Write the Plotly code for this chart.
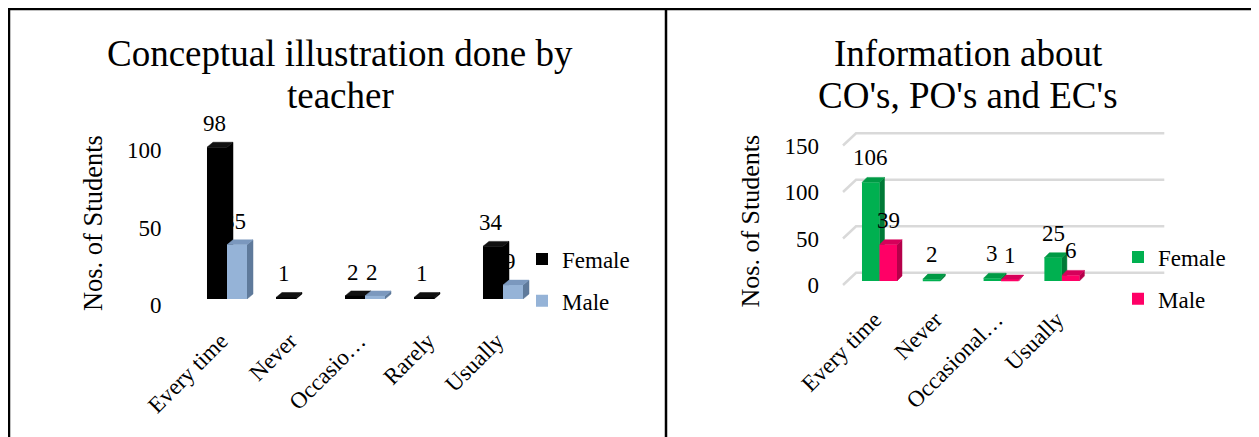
import plotly.graph_objects as go

# page is shown with an 8px body margin -> figure fills the rest
PAGE_W, PAGE_H, OFF = 1259, 437, 8
W, H = PAGE_W - OFF, PAGE_H - OFF

# ---------------- data ----------------
series_names = ["Female", "Male"]
y_title = "Nos. of Students"

left_title = ["Conceptual illustration done by", "teacher"]
left_categories = ["Every time", "Never", "Occasio…", "Rarely", "Usually"]
left_female = [98, 1, 2, 1, 34]
left_male = [35, None, 2, None, 9]
left_yticks = [0, 50, 100]

right_title = ["Information about", "CO's, PO's and EC's"]
right_categories = ["Every time", "Never", "Occasional…", "Usually"]
right_female = [106, 2, 3, 25]
right_male = [39, None, 1, 6]
right_yticks = [0, 50, 100, 150]

# ---------------- styles ----------------
FONT = "Liberation Serif"
left_colors = [("#000000", "#000000", "#111111"),
               ("#95B3D7", "#5F7A9B", "#7B98BE")]
right_colors = [("#00B050", "#007A37", "#009A45"),
                ("#FF0066", "#B5004A", "#D6005A")]


def px_x(p):  # screen px -> paper
    return (p - OFF) / W


def px_y(p):
    return 1 - (p - OFF) / H


fig = go.Figure()


def add_chart(cats, female, male, colors, base, over, w, dx, dy,
              legend, group, label_size, yshift, label_dx):
    bx, by = base
    ox, oy = over
    idx = list(range(len(cats)))
    offsets = [-w, 0]
    # 3D side/top faces (lower layer)
    for k, vals in enumerate([female, male]):
        front, side, top = colors[k]
        xs_s, ys_s, xs_t, ys_t = [], [], [], []
        for i, v in zip(idx, vals):
            if v is None:
                continue
            xl = i + offsets[k]
            xr = xl + w
            xs_s += [xr, xr + dx, xr + dx, xr, xr, None]
            ys_s += [0, dy, v + dy, v, 0, None]
            xs_t += [xl, xl + dx, xr + dx, xr, xl, None]
            ys_t += [v, v + dy, v + dy, v, v, None]
        for xs, ys, col in [(xs_s, ys_s, side), (xs_t, ys_t, top)]:
            fig.add_trace(go.Scatter(
                x=xs, y=ys, fill="toself", fillcolor=col, mode="lines",
                line=dict(width=0.5, color=col), hoverinfo="skip",
                showlegend=False, xaxis=bx, yaxis=by))
    # front faces as bars (overlay layer, above the faces)
    for k, (name, vals) in enumerate(zip(series_names, [female, male])):
        fig.add_trace(go.Bar(
            x=idx, y=vals, width=w, offset=offsets[k], name=name,
            marker=dict(color=colors[k][0], line=dict(width=0)),
            xaxis=ox, yaxis=oy, legend=legend, legendgroup=group + name,
            hoverinfo="x+y"))
        for i, v in zip(idx, vals):
            if v is None:
                continue
            fig.add_annotation(
                x=i + offsets[k] + w / 2, y=v, xref=bx, yref=by,
                text=str(v), showarrow=False, yanchor="bottom",
                yshift=yshift, xshift=label_dx[k],
                font=dict(family=FONT, size=label_size, color="black"))


# ---------------- geometry (screen px) ----------------
# left chart
L_c0, L_step, L_base, L_ppu = 227, 69, 299, 1.549
l_xr = [-0.5, 4.5]
l_yr = [0, 120]
l_xdom = [px_x(L_c0 + l_xr[0] * L_step), px_x(L_c0 + l_xr[1] * L_step)]
l_ydom = [px_y(L_base - l_yr[0] * L_ppu), px_y(L_base - l_yr[1] * L_ppu)]

# right chart
R_c0, R_step, R_base, R_ppu = 879.5, 60.8, 281, 0.93
r_xr = [-0.65, 4.75]
r_yr = [-6, 162]
r_xdom = [px_x(R_c0 + r_xr[0] * R_step), px_x(R_c0 + r_xr[1] * R_step)]
r_ydom = [px_y(R_base - r_yr[0] * R_ppu), px_y(R_base - r_yr[1] * R_ppu)]

# left chart traces (subplots xy + overlay x2y2)
add_chart(left_categories, left_female, left_male, left_colors,
          ("x", "y"), ("x2", "y2"), 0.29, 0.087, 3.2, "legend", "L", 23, 9,
          (-2, -3))

# right chart back-wall gridlines (lowest layer of right chart)
g_x0, g_x1, g_dx, g_dy, g_front = -0.6, 4.47, 0.214, 8.9, -4.3
gx, gy = [], []
for t in right_yticks:
    gx += [g_x0, g_x0 + g_dx, g_x1 + g_dx, None]
    gy += [t + g_front, t + g_dy, t + g_dy, None]
fig.add_trace(go.Scatter(x=gx, y=gy, mode="lines",
                         line=dict(color="#D9D9D9", width=2.5),
                         hoverinfo="skip", showlegend=False,
                         xaxis="x3", yaxis="y3"))

add_chart(right_categories, right_female, right_male, right_colors,
          ("x3", "y3"), ("x4", "y4"), 0.288, 0.082, 5.4, "legend2", "R",
          23, 10, (0, 0))

# ---------------- axes ----------------
common = dict(showgrid=False, zeroline=False, showline=False, ticks="",
              automargin=False)
tick_font = dict(family=FONT, size=23, color="black")

fig.update_layout(
    xaxis=dict(domain=l_xdom, range=l_xr, anchor="y", tickmode="array",
               tickvals=list(range(len(left_categories))),
               ticktext=left_categories, tickangle=-45,
               ticklabelstandoff=23, ticklabelshift=-6,
               tickfont=tick_font, **common),
    yaxis=dict(domain=l_ydom, range=l_yr, anchor="x", tickmode="array",
               tickvals=left_yticks, ticklabelstandoff=30,
               ticklabelshift=6, tickfont=tick_font, **common),
    xaxis2=dict(domain=l_xdom, range=l_xr, anchor="y2", overlaying="x",
                visible=False, **common),
    yaxis2=dict(domain=l_ydom, range=l_yr, anchor="x2", overlaying="y",
                visible=False, **common),
    xaxis3=dict(domain=r_xdom, range=r_xr, anchor="y3", tickmode="array",
                tickvals=list(range(len(right_categories))),
                ticktext=right_categories, tickangle=-45,
                ticklabelstandoff=14, ticklabelshift=-5,
                tickfont=tick_font, **common),
    yaxis3=dict(domain=r_ydom, range=r_yr, anchor="x3", tickmode="array",
                tickvals=right_yticks, ticklabelstandoff=20,
                ticklabelshift=4, tickfont=tick_font, **common),
    xaxis4=dict(domain=r_xdom, range=r_xr, anchor="y4", overlaying="x3",
                visible=False, **common),
    yaxis4=dict(domain=r_ydom, range=r_yr, anchor="x4", overlaying="y3",
                visible=False, **common),
)

legend_font = dict(family=FONT, size=23, color="black")
fig.update_layout(
    width=W, height=H,
    margin=dict(l=0, r=0, t=0, b=0, autoexpand=False),
    paper_bgcolor="white", plot_bgcolor="rgba(0,0,0,0)",
    barmode="overlay", showlegend=True,
    legend=dict(x=px_x(522), y=px_y(280), xanchor="left", yanchor="middle",
                font=legend_font, tracegroupgap=9,
                bgcolor="rgba(0,0,0,0)", borderwidth=0),
    legend2=dict(x=px_x(1118), y=px_y(278), xanchor="left",
                 yanchor="middle", font=legend_font, tracegroupgap=9,
                 bgcolor="rgba(0,0,0,0)", borderwidth=0),
    font=dict(family=FONT, color="black"),
)

# titles (one annotation per line) & axis titles
TITLE_SIZE = 37
for title, cx in [(left_title, 340), (right_title, 968)]:
    for j, line in enumerate(title):
        baseline = 66 + 42 * j
        fig.add_annotation(
            x=px_x(cx), y=px_y(baseline - 0.335 * TITLE_SIZE),
            xref="paper", yref="paper", text=line, showarrow=False,
            xanchor="center", yanchor="middle",
            font=dict(family=FONT, size=TITLE_SIZE, color="black"))

for cx, cy, size in [(92.6, 223.5, 26.5), (750.5, 221, 26)]:
    fig.add_annotation(x=px_x(cx), y=px_y(cy), xref="paper", yref="paper",
                       text=y_title, showarrow=False, textangle=-90,
                       xanchor="center", yanchor="middle",
                       font=dict(family=FONT, size=size, color="black"))

# table borders
border = dict(color="black", width=2.5)
fig.add_shape(type="line", xref="paper", yref="paper",
              x0=px_x(7), x1=1, y0=px_y(9), y1=px_y(9), line=border)
fig.add_shape(type="line", xref="paper", yref="paper",
              x0=px_x(9), x1=px_x(9), y0=px_y(8), y1=0, line=border)
fig.add_shape(type="line", xref="paper", yref="paper",
              x0=px_x(666), x1=px_x(666), y0=px_y(8), y1=0, line=border)

fig.write_html("out.html")
